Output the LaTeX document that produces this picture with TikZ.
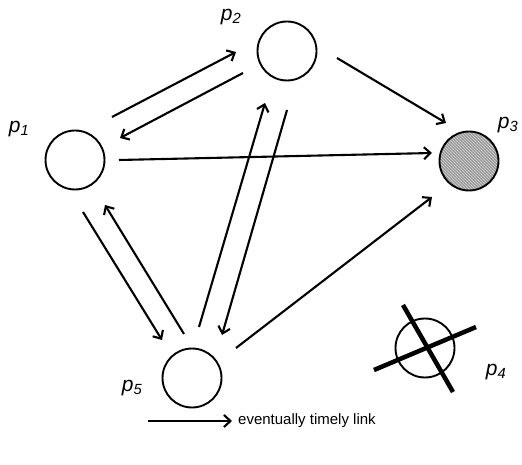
\documentclass[tikz,border=0pt]{standalone}
\usepackage{fontspec}
\setmainfont{Liberation Sans}
\usetikzlibrary{arrows.meta,patterns}
\begin{document}
\begin{tikzpicture}[x=1pt,y=1pt,
  proc/.style={circle,draw=black,line width=1.9pt,minimum size=59pt,inner sep=0pt},
  arr/.style={line width=2.1pt,-{Straight Barb[length=6.5pt,width=12pt,line width=2.1pt]}},
  lbl/.style={font=\fontsize{21}{25}\selectfont\itshape,inner sep=0pt},
  cross/.style={line width=4.5pt}]
\useasboundingbox (0,0) rectangle (522,464);
% processes
\node[proc] (p1) at (75,304) {};
\node[proc] (p2) at (287,413) {};
\node[proc,preaction={fill=gray!80},pattern=north west lines,pattern color=gray!30] (p3) at (469,303) {};
\node[proc] (p4) at (425,116) {};
\node[proc] (p5) at (192,86) {};
% labels
\node[lbl] (l1) at (19,335) {p\textsubscript{1}};
\node[lbl] (l2) at (231,447) {p\textsubscript{2}};
\node[lbl] (l3) at (508,339) {p\textsubscript{3}};
\node[lbl] (l4) at (496,92) {p\textsubscript{4}};
\node[lbl] (l5) at (132,76) {p\textsubscript{5}};
% crash cross
\draw[cross] ([shift={(-51,-22)}]p4.center) -- ([shift={(51,21)}]p4.center);
\draw[cross] ([shift={(-22,43)}]p4.center) -- ([shift={(28,-44)}]p4.center);
% links
\draw[arr] ([shift={(37,43)}]p1.center) -- ([shift={(-51,-1)}]p2.center);
\draw[arr] ([shift={(-44,-22)}]p2.center) -- ([shift={(45,22)}]p1.center);
\draw[arr] ([shift={(50,-7)}]p2.center) -- ([shift={(-23,38)}]p3.center);
\draw[arr] ([shift={(44,0)}]p1.center) -- ([shift={(-37,8)}]p3.center);
\draw[arr] ([shift={(44,30)}]p5.center) -- ([shift={(-37,-36)}]p3.center);
\draw[arr] ([shift={(7,51)}]p5.center) -- ([shift={(-22,-52)}]p2.center);
\draw[arr] ([shift={(0,-59)}]p2.center) -- ([shift={(30,43)}]p5.center);
\draw[arr] ([shift={(8,-52)}]p1.center) -- ([shift={(-30,38)}]p5.center);
\draw[arr] ([shift={(-8,44)}]p5.center) -- ([shift={(30,-45)}]p1.center);
% legend
\coordinate (lgA) at (148,43);
\coordinate (lgB) at (232,43);
\draw[arr] (lgA) -- (lgB);
\node[anchor=west,inner sep=0pt,font=\fontsize{15}{18}\selectfont] (lgT) at ([xshift=6pt]lgB) {eventually timely link};
\end{tikzpicture}
\end{document}
